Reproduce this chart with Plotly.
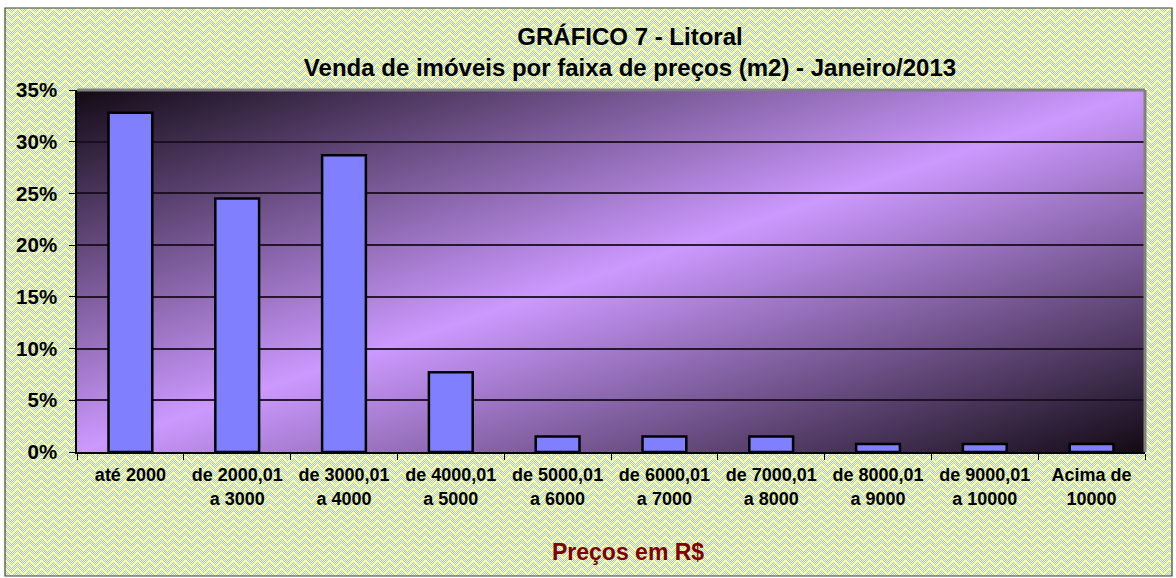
import base64
import plotly.graph_objects as go

categories = ["até 2000", "de 2000,01<br>a 3000", "de 3000,01<br>a 4000", "de 4000,01<br>a 5000",
              "de 5000,01<br>a 6000", "de 6000,01<br>a 7000", "de 7000,01<br>a 8000",
              "de 8000,01<br>a 9000", "de 9000,01<br>a 10000", "Acima de<br>10000"]
values = [32.8, 24.5, 28.7, 7.7, 1.5, 1.5, 1.5, 0.77, 0.77, 0.77]
title_lines = ["GRÁFICO 7 - Litoral", "Venda de imóveis por faixa de preços (m2) - Janeiro/2013"]
x_title = "Preços em R$"

W, H = 1176, 578
L, R, T, B = 77, 31, 90, 126
pw, ph = W - L - R, H - T - B

def px_x(p):
    return (p - L) / pw

def px_y(p):
    return (H - B - p) / ph

# background pattern (yellow with light-blue zigzag dither)
rects = []
TW, TH = 12, 8
for y in range(TH):
    for x in range(TW):
        tri = abs((x % TW) - 6)
        if (y + tri) % TH in (0, 1, 2, 3, 4) and (x + y) % 2 == 0:
            rects.append(f'<rect x="{x}" y="{y}" width="1" height="1" fill="#A0C8F4"/>')
fw, fh = 1167, 568
svg_bg = (f'<svg xmlns="http://www.w3.org/2000/svg" width="{fw}" height="{fh}">'
          f'<defs><pattern id="p" width="{TW}" height="{TH}" patternUnits="userSpaceOnUse">'
          f'<rect width="{TW}" height="{TH}" fill="#FFFF99"/>' + "".join(rects) +
          '</pattern></defs>'
          f'<rect width="{fw}" height="{fh}" fill="url(#p)"/></svg>')
bg_uri = "data:image/svg+xml;base64," + base64.b64encode(svg_bg.encode()).decode()

svg_grad = (f'<svg xmlns="http://www.w3.org/2000/svg" width="{pw}" height="{ph}" preserveAspectRatio="none" viewBox="0 0 {pw} {ph}">'
            '<defs><linearGradient id="g" x1="0" y1="0" x2="1" y2="1">'
            '<stop offset="0" stop-color="#120a14"/>'
            '<stop offset="0.5" stop-color="#CC99FF"/>'
            '<stop offset="1" stop-color="#120a14"/>'
            '</linearGradient></defs>'
            f'<rect width="{pw}" height="{ph}" fill="url(#g)"/></svg>')
grad_uri = "data:image/svg+xml;base64," + base64.b64encode(svg_grad.encode()).decode()

fig = go.Figure()
fig.add_trace(go.Bar(
    x=categories, y=values,
    marker=dict(color="#8080FF", line=dict(color="black", width=2.5)),
    hoverinfo="skip",
))

fx0, fx1 = px_x(5), px_x(5 + fw)
fy1, fy0 = px_y(8), px_y(8 + fh)

fig.update_layout(
    width=W, height=H,
    margin=dict(l=L, r=R, t=T, b=B, pad=0),
    paper_bgcolor="white",
    plot_bgcolor="rgba(0,0,0,0)",
    bargap=0.59,
    showlegend=False,
    font=dict(family="Liberation Sans, Arial, sans-serif", color="black"),
    title=dict(
        text="<br>".join(title_lines),
        font=dict(size=24, weight="bold", color="black"),
        x=630 / W, xanchor="center", xref="container",
        y=1 - 45 / H, yanchor="middle", yref="container",
    ),
    images=[
        dict(source=bg_uri, xref="paper", yref="paper", x=fx0, y=fy1,
             sizex=fx1 - fx0, sizey=fy1 - fy0, sizing="stretch", layer="below",
             xanchor="left", yanchor="top"),
        dict(source=grad_uri, xref="paper", yref="paper", x=0, y=1,
             sizex=1, sizey=1, sizing="stretch", layer="below",
             xanchor="left", yanchor="top"),
    ],
    shapes=[
        dict(type="rect", xref="paper", yref="paper", x0=fx0, x1=fx1, y0=fy0, y1=fy1,
             line=dict(color="#404040", width=1.2), layer="below"),
        dict(type="line", xref="paper", yref="paper", x0=0, x1=1, y0=1, y1=1,
             line=dict(color="#808080", width=3), layer="above"),
        dict(type="line", xref="paper", yref="paper", x0=1, x1=1, y0=0, y1=1,
             line=dict(color="#808080", width=3), layer="above"),
    ],
    annotations=[
        dict(text=x_title, xref="paper", yref="paper", x=px_x(628), y=px_y(552),
             showarrow=False, xanchor="center", yanchor="middle",
             font=dict(size=23, weight="bold", color="#800000")),
    ],
)

fig.update_xaxes(
    showline=True, linecolor="black", linewidth=1.5,
    ticks="outside", tickson="boundaries", ticklen=6, tickcolor="black", tickwidth=1.2,
    tickfont=dict(size=18, weight="bold", color="black"),
    ticklabelstandoff=6,
    showgrid=False,
)
fig.update_yaxes(
    range=[0, 35], dtick=5, ticksuffix="%",
    showline=True, linecolor="black", linewidth=1.5,
    ticks="outside", ticklen=6, tickcolor="black", tickwidth=1.2,
    tickfont=dict(size=20.5, weight="bold", color="black"),
    ticklabelstandoff=8,
    showgrid=True, gridcolor="rgba(25,12,30,0.9)", gridwidth=1.6,
    zeroline=False,
)

fig.write_html("out.html", config={"displayModeBar": False},
               post_script="document.body.style.margin='0';")
